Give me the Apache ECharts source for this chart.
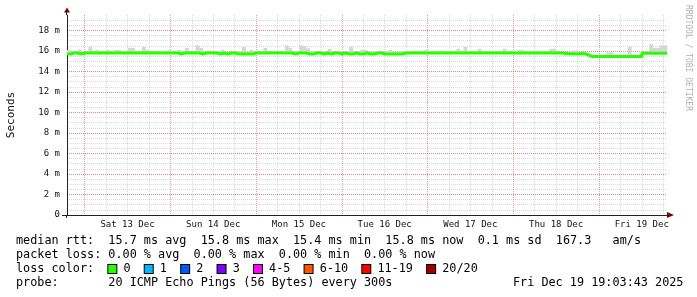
<!DOCTYPE html>
<html><head><meta charset="utf-8">
<script src="https://cdn.jsdelivr.net/npm/echarts@6/dist/echarts.min.js"></script>
<style>html,body{margin:0;padding:0;background:#fff}#c{width:697px;height:297px}</style>
</head><body><div id="c"></div>
<script>
// time axis in hours since Fri Dec 12 00:00
const START_H = 19.0619;   // Dec 12 19:03:43
const END_H = 187.0619;    // Dec 19 19:03:43
const dayLabels = ['Sat 13 Dec','Sun 14 Dec','Mon 15 Dec','Tue 16 Dec','Wed 17 Dec','Thu 18 Dec','Fri 19 Dec'];
const yTickValues = [0,2,4,6,8,10,12,14,16,18];

// hourly median rtt (ms), one value per hour from START_H
const median = [
15.7,15.8,15.8,15.7,15.8,15.8,15.8,15.8,15.8,15.8,15.8,15.8,15.8,15.8,15.8,15.8,15.8,15.8,15.8,15.8,15.8,15.8,15.8,15.8,
15.8,15.8,15.8,15.8,15.8,15.8,15.8,15.7,15.8,15.8,15.8,15.8,15.8,15.7,15.8,15.8,15.8,15.8,15.7,15.8,15.7,15.8,15.8,15.7,
15.7,15.7,15.7,15.7,15.8,15.8,15.8,15.8,15.8,15.8,15.8,15.8,15.8,15.8,15.8,15.7,15.8,15.8,15.8,15.7,15.7,15.8,15.8,15.7,
15.8,15.7,15.8,15.8,15.7,15.8,15.7,15.7,15.8,15.7,15.7,15.8,15.7,15.7,15.8,15.8,15.7,15.7,15.7,15.7,15.7,15.7,15.8,15.8,
15.8,15.8,15.8,15.8,15.8,15.8,15.8,15.8,15.8,15.8,15.8,15.8,15.8,15.8,15.8,15.8,15.8,15.8,15.8,15.8,15.8,15.8,15.8,15.8,
15.8,15.8,15.8,15.8,15.8,15.8,15.8,15.8,15.8,15.8,15.8,15.8,15.8,15.8,15.8,15.8,15.8,15.8,15.8,15.72,15.72,15.72,15.72,15.72,
15.72,15.62,15.45,15.45,15.45,15.45,15.45,15.45,15.45,15.45,15.45,15.45,15.45,15.45,15.45,15.45,15.45,15.78,15.78,15.78,15.78,15.78,15.78,15.78
];
// hourly top of the smoke (slowest ping, ms)
const smokeTop = [
16.1,15.95,15.95,16.15,15.95,15.95,16.4,15.95,16.1,15.95,15.95,16.1,15.95,16.1,16.1,15.95,15.95,16.3,16.3,15.95,15.95,16.4,16.1,15.95,
15.95,15.95,15.95,15.95,16.1,15.95,15.95,16.1,15.95,16.3,15.95,15.95,16.55,16.3,15.95,15.95,15.95,15.95,15.95,16.1,15.95,15.95,15.95,15.95,
15.95,16.4,15.95,16.1,15.95,15.95,15.95,16.3,15.95,15.95,15.95,15.95,15.95,16.55,16.3,15.95,15.95,16.55,16.45,16.25,15.95,15.95,15.95,15.95,
15.95,16.2,15.95,15.95,15.95,15.95,15.95,16.4,15.95,15.95,16.1,16.1,15.95,15.95,15.95,15.95,15.95,15.95,16.1,15.95,15.95,15.95,15.95,15.95,
16.0,16.0,15.95,15.95,16.1,15.95,15.95,15.95,16.05,15.95,15.95,15.95,15.95,16.2,15.95,16.4,15.95,15.95,15.95,16.2,15.95,15.95,15.95,15.95,
15.95,15.95,16.2,15.95,15.95,15.95,16.1,16.1,15.95,15.95,15.95,16.05,15.95,15.95,15.95,16.2,16.2,15.95,15.95,15.9,15.9,16.05,16.05,15.9,
15.9,15.8,15.62,15.62,15.62,15.62,15.62,15.85,15.85,15.62,15.62,15.62,15.62,16.4,15.62,15.62,15.62,15.95,15.95,16.65,16.3,16.3,16.55,16.55
];

const lossItems = [['0','#26ff00'],['1','#00b8ff'],['2','#0059ff'],['3','#7e00ff'],['4-5','#ff00ff'],['6-10','#ff5500'],['11-19','#ff0000'],['20/20','#a10000']];
const row1 = 'median rtt:  15.7 ms avg  15.8 ms max  15.4 ms min  15.8 ms now  0.1 ms sd  167.3   am/s';
const row2 = 'packet loss: 0.00 % avg  0.00 % max  0.00 % min  0.00 % now';
const row4 = 'probe:       20 ICMP Echo Pings (56 Bytes) every 300s';
const dateText = 'Fri Dec 19 19:03:43 2025';
const credit = 'RRDTOOL / TOBI OETIKER';

const MONO = '"DejaVu Sans Mono", monospace';
const RED = 'rgba(210,40,40,0.45)', GRAY = 'rgba(140,140,140,0.32)', AXIS = '#202020', ARROW = '#800000';

// median line (hourly steps)
const medPts = median.map((v,i)=>[START_H+i, v]);
medPts.push([START_H+median.length, median[median.length-1]]);
// smoke cells: [hour start, hour end, median, top]
const smokeCells = smokeTop.map((t,i)=>[START_H+i, START_H+i+1, median[i], t]);

const midnightHours = [], quarterHours = [];
for (let h = 24; h <= 186; h += 6) (h % 24 === 0 ? midnightHours : quarterHours).push(h);
const noonHours = dayLabels.map((d,i)=>36+24*i);

const rich = {};
let row3 = 'loss color:  ';
lossItems.forEach((it,i)=>{
  rich['b'+i] = {width:8, height:8, backgroundColor:it[1], borderColor:'#000', borderWidth:1, verticalAlign:'middle', lineHeight:14};
  row3 += '{b'+i+'| } ' + it[0] + '  ';
});
const txtStyle = (t, x, y, extra) => ({type:'text', x, y, silent:true, style:Object.assign({text:t, fontFamily:MONO, fontSize:11.8, fill:'#000', align:'left', verticalAlign:'middle', lineHeight:14}, extra||{})});

const chart = echarts.init(document.getElementById('c'), null, {renderer:'canvas'});
chart.setOption({
  animation:false,
  backgroundColor:'#fff',
  grid:{left:67, right:30, top:15, bottom:82, containLabel:false, outerBoundsMode:'none'},
  xAxis:[{
    type:'value', min:START_H, max:END_H, position:'bottom',
    axisLine:{show:false}, axisLabel:{show:false},
    axisTick:{show:false, customValues:quarterHours},
    splitLine:{show:true, lineStyle:{color:GRAY, type:[1,1], width:1}}
  },{
    type:'value', min:START_H, max:END_H, position:'bottom', z:1,
    axisLine:{show:true, lineStyle:{color:AXIS, width:1}},
    axisTick:{show:false, customValues:midnightHours},
    axisLabel:{customValues:noonHours, formatter:(v)=>dayLabels[Math.round((v-36)/24)]||'', fontFamily:MONO, fontSize:9, color:'#111', margin:5},
    splitLine:{show:true, lineStyle:{color:RED, type:[1,1], width:1}}
  }],
  yAxis:[{
    type:'value', min:0, max:19.5, interval:0.5, position:'left',
    axisLine:{show:false}, axisTick:{show:false}, axisLabel:{show:false},
    splitLine:{show:true, showMaxLine:false, lineStyle:{color:GRAY, type:[1,1], width:1}}
  },{
    type:'value', min:0, max:19.5, interval:2, position:'left', z:1,
    axisLine:{show:true, lineStyle:{color:AXIS, width:1}},
    axisTick:{show:false},
    axisLabel:{formatter:(v)=>yTickValues.indexOf(v)>=0 ? (v===0?'0':v+' m') : '', fontFamily:MONO, fontSize:9, color:'#111', margin:7},
    splitLine:{show:true, showMaxLine:false, lineStyle:{color:RED, type:[1,1], width:1}},
    name:'Seconds', nameLocation:'middle', nameGap:50,
    nameTextStyle:{fontFamily:MONO, fontSize:11, color:'#111'}
  }],
  series:[
    {type:'custom', name:'smoke', data:smokeCells, silent:true, z:3, xAxisIndex:1, yAxisIndex:1, encode:{x:[0,1], y:[2,3]},
     renderItem:(params, api)=>{
       const p0 = api.coord([api.value(0), api.value(3)]);
       const p1 = api.coord([api.value(1), api.value(2)]);
       return {type:'rect', shape:{x:p0[0], y:p0[1], width:p1[0]-p0[0]+0.3, height:p1[1]-p0[1]}, style:{fill:'#d6d6d6'}};
     }},
    {type:'line', name:'median', data:medPts, xAxisIndex:1, yAxisIndex:1, step:'end', symbol:'none', silent:true, lineStyle:{width:3, color:'#26ff00'}, z:4}
  ],
  graphic:[
    {type:'polygon', silent:true, shape:{points:[[64,12.5],[67,7.5],[70,12.5]]}, style:{fill:ARROW}},
    {type:'line', silent:true, shape:{x1:66.5,y1:12,x2:66.5,y2:15}, style:{stroke:AXIS, lineWidth:1}},
    {type:'polygon', silent:true, shape:{points:[[667,212],[674,215],[667,218]]}, style:{fill:ARROW}},
    {type:'line', silent:true, shape:{x1:62,y1:215.5,x2:67,y2:215.5}, style:{stroke:AXIS, lineWidth:1}},
    {type:'line', silent:true, shape:{x1:66.5,y1:215,x2:66.5,y2:218}, style:{stroke:AXIS, lineWidth:1}},
    {type:'text', x:688, y:5, rotation:-Math.PI/2, silent:true, style:{text:credit, fontFamily:MONO, fontSize:8, fill:'#b0b0b0', align:'left', verticalAlign:'middle'}},
    txtStyle(row1, 16, 241),
    txtStyle(row2, 16, 255),
    txtStyle(row3, 16, 269, {rich:rich}),
    txtStyle(row4, 16, 283),
    txtStyle(dateText, 513, 283)
  ]
});
</script></body></html>
